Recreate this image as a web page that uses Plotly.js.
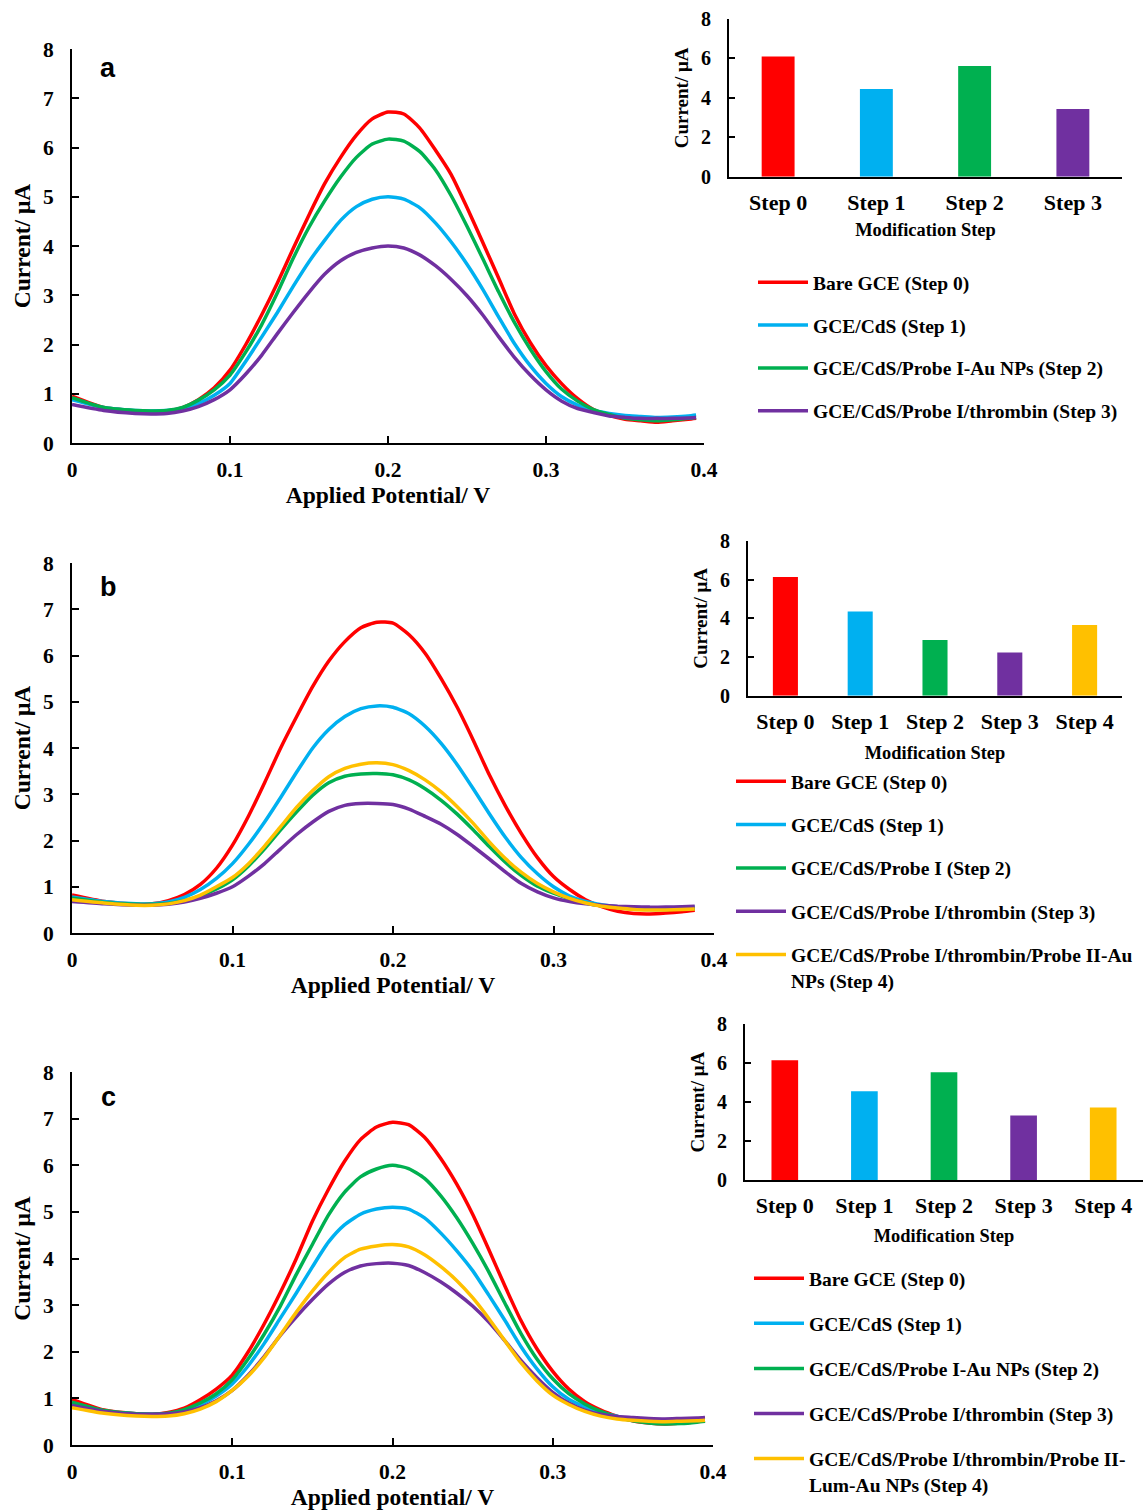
<!DOCTYPE html>
<html><head><meta charset="utf-8">
<script src="https://cdn.plot.ly/plotly-3.0.1.min.js"></script>
<style>html,body{margin:0;padding:0;background:#fff}</style>
</head><body>
<div id="chart" style="width:1143px;height:1512px"></div>
<script>
// ---------- DATA ----------
const potA = [0,0.02,0.04,0.05,0.06,0.07,0.08,0.09,0.10,0.11,0.12,0.13,0.14,0.15,0.16,0.17,0.18,0.19,0.20,0.21,0.22,0.23,0.24,0.25,0.26,0.27,0.28,0.29,0.30,0.31,0.32,0.33,0.34,0.35,0.36,0.37,0.38,0.39,0.395];
const redA    = [0.95,0.72,0.65,0.63,0.65,0.72,0.88,1.12,1.48,2.0,2.6,3.25,3.95,4.63,5.27,5.8,6.25,6.58,6.72,6.68,6.4,5.95,5.45,4.78,4.07,3.35,2.62,2.04,1.57,1.2,0.9,0.68,0.56,0.48,0.45,0.42,0.45,0.48,0.5];
const blueA   = [0.88,0.72,0.66,0.65,0.66,0.7,0.8,0.97,1.21,1.66,2.15,2.65,3.18,3.68,4.12,4.52,4.8,4.95,5.0,4.95,4.78,4.47,4.08,3.63,3.12,2.56,2.02,1.57,1.21,0.94,0.77,0.66,0.6,0.56,0.54,0.52,0.53,0.55,0.57];
const greenA  = [0.92,0.72,0.66,0.65,0.66,0.72,0.87,1.08,1.38,1.85,2.4,3.05,3.75,4.38,4.92,5.4,5.8,6.07,6.17,6.13,5.92,5.55,5.02,4.4,3.74,3.07,2.45,1.91,1.45,1.09,0.85,0.68,0.58,0.5,0.47,0.45,0.47,0.5,0.52];
const purpleA = [0.78,0.66,0.6,0.59,0.6,0.65,0.74,0.88,1.08,1.4,1.78,2.22,2.65,3.06,3.43,3.7,3.87,3.96,4.0,3.96,3.82,3.6,3.32,2.99,2.6,2.16,1.74,1.38,1.08,0.85,0.7,0.62,0.55,0.52,0.5,0.5,0.5,0.51,0.52];

const potB = [0,0.02,0.04,0.05,0.06,0.07,0.08,0.09,0.10,0.11,0.12,0.13,0.14,0.15,0.16,0.17,0.18,0.19,0.20,0.21,0.22,0.23,0.24,0.25,0.26,0.27,0.28,0.29,0.30,0.31,0.32,0.33,0.34,0.35,0.36,0.37,0.38,0.388];
const redB    = [0.82,0.68,0.62,0.63,0.7,0.83,1.05,1.4,1.9,2.53,3.25,4.0,4.68,5.33,5.88,6.3,6.6,6.72,6.7,6.45,6.05,5.5,4.88,4.17,3.42,2.75,2.15,1.63,1.22,0.94,0.72,0.57,0.47,0.42,0.41,0.43,0.46,0.49];
const blueB   = [0.78,0.68,0.63,0.63,0.67,0.77,0.94,1.18,1.5,1.92,2.4,2.93,3.48,4.0,4.4,4.68,4.85,4.91,4.88,4.74,4.47,4.1,3.64,3.12,2.58,2.07,1.63,1.28,1.0,0.8,0.68,0.61,0.57,0.55,0.54,0.54,0.55,0.56];
const greenB  = [0.75,0.66,0.62,0.62,0.64,0.7,0.8,0.95,1.15,1.45,1.82,2.23,2.62,2.98,3.25,3.39,3.44,3.45,3.42,3.31,3.12,2.87,2.57,2.23,1.87,1.53,1.24,1.01,0.86,0.74,0.65,0.59,0.55,0.52,0.51,0.51,0.52,0.53];
const purpleB = [0.68,0.63,0.6,0.6,0.62,0.67,0.75,0.86,1.0,1.23,1.5,1.82,2.13,2.4,2.63,2.76,2.8,2.8,2.78,2.68,2.52,2.35,2.13,1.87,1.6,1.32,1.07,0.89,0.76,0.68,0.63,0.6,0.58,0.57,0.56,0.56,0.57,0.58];
const yellowB = [0.72,0.65,0.6,0.6,0.63,0.7,0.82,1.0,1.2,1.5,1.88,2.3,2.72,3.08,3.38,3.56,3.65,3.68,3.64,3.51,3.31,3.05,2.73,2.37,1.97,1.61,1.31,1.07,0.89,0.75,0.65,0.58,0.54,0.51,0.5,0.5,0.51,0.52];

const potC = [0,0.02,0.04,0.05,0.06,0.07,0.08,0.09,0.10,0.11,0.12,0.13,0.14,0.15,0.16,0.17,0.18,0.19,0.20,0.21,0.22,0.23,0.24,0.25,0.26,0.27,0.28,0.29,0.30,0.31,0.32,0.33,0.34,0.35,0.36,0.37,0.38,0.39,0.395];
const redC    = [0.98,0.75,0.67,0.66,0.7,0.79,0.97,1.2,1.5,2.0,2.6,3.27,4.0,4.8,5.48,6.08,6.55,6.82,6.92,6.87,6.6,6.15,5.6,4.95,4.2,3.42,2.68,2.07,1.58,1.2,0.93,0.75,0.62,0.52,0.47,0.45,0.47,0.5,0.52];
const blueC   = [0.9,0.73,0.67,0.66,0.67,0.73,0.86,1.05,1.31,1.7,2.18,2.72,3.26,3.82,4.35,4.72,4.95,5.06,5.1,5.06,4.87,4.55,4.17,3.74,3.22,2.68,2.12,1.64,1.25,0.98,0.82,0.7,0.62,0.55,0.52,0.5,0.51,0.52,0.53];
const greenC  = [0.92,0.74,0.67,0.66,0.68,0.76,0.9,1.1,1.4,1.85,2.38,2.98,3.66,4.3,4.93,5.42,5.75,5.92,6.0,5.93,5.72,5.35,4.88,4.33,3.72,3.05,2.4,1.85,1.42,1.1,0.88,0.72,0.6,0.52,0.47,0.45,0.46,0.49,0.51];
const purpleC = [0.85,0.72,0.66,0.66,0.67,0.71,0.8,0.95,1.17,1.5,1.9,2.35,2.75,3.12,3.45,3.7,3.84,3.89,3.9,3.85,3.7,3.5,3.26,2.98,2.64,2.24,1.82,1.45,1.13,0.9,0.75,0.66,0.61,0.59,0.57,0.56,0.57,0.58,0.59];
const yellowC = [0.8,0.68,0.62,0.61,0.62,0.67,0.77,0.93,1.17,1.48,1.88,2.36,2.85,3.3,3.7,4.02,4.2,4.27,4.3,4.25,4.08,3.83,3.53,3.16,2.72,2.24,1.77,1.38,1.07,0.87,0.72,0.62,0.56,0.53,0.51,0.5,0.51,0.52,0.53];

const stepsA = ["Step 0","Step 1","Step 2","Step 3"];
const stepsBC = ["Step 0","Step 1","Step 2","Step 3","Step 4"];
const barA = [6.1, 4.45, 5.62, 3.43];
const barB = [6.14, 4.35, 2.88, 2.24, 3.66];
const barC = [6.15, 4.56, 5.53, 3.32, 3.72];

const namesA = ["Bare GCE (Step 0)","GCE/CdS (Step 1)","GCE/CdS/Probe I-Au NPs (Step 2)","GCE/CdS/Probe I/thrombin (Step 3)"];
const namesB = ["Bare GCE (Step 0)","GCE/CdS (Step 1)","GCE/CdS/Probe I (Step 2)","GCE/CdS/Probe I/thrombin (Step 3)","GCE/CdS/Probe I/thrombin/Probe II-Au<br>NPs (Step 4)"];
const namesC = ["Bare GCE (Step 0)","GCE/CdS (Step 1)","GCE/CdS/Probe I-Au NPs (Step 2)","GCE/CdS/Probe I/thrombin (Step 3)","GCE/CdS/Probe I/thrombin/Probe II-<br>Lum-Au NPs (Step 4)"];

// ---------- STYLE ----------
const COL = {red:"#FF0000", blue:"#00B0F0", green:"#00B050", purple:"#7030A0", yellow:"#FFC000"};
const SERIF = "Liberation Serif, Times New Roman, serif";
const W = 1143, H = 1512;
const px = v => v / W;
const py = v => 1 - v / H;

const traces = [];
function addLines(pot, series, names, colors, xa, ya, leg) {
  series.forEach((s, i) => {
    traces.push({
      type: "scatter", mode: "lines", x: pot, y: s, name: names[i],
      line: {color: colors[i], width: 3.5, shape: "spline", smoothing: 0.6},
      xaxis: xa, yaxis: ya, legend: leg, legendgroup: leg + "_" + i,
      hoverinfo: "skip"
    });
  });
}
addLines(potA, [redA, blueA, greenA, purpleA], namesA, [COL.red, COL.blue, COL.green, COL.purple], "x", "y", "legend");
addLines(potB, [redB, blueB, greenB, purpleB, yellowB], namesB, [COL.red, COL.blue, COL.green, COL.purple, COL.yellow], "x3", "y3", "legend2");
addLines(potC, [redC, blueC, greenC, purpleC, yellowC], namesC, [COL.red, COL.blue, COL.green, COL.purple, COL.yellow], "x5", "y5", "legend3");

function addBars(cats, vals, colors, xa, ya) {
  traces.push({type: "bar", x: cats, y: vals, marker: {color: colors, line: {width: 0}},
    width: 0.335, xaxis: xa, yaxis: ya, showlegend: false, hoverinfo: "skip"});
}
addBars(stepsA, barA, [COL.red, COL.blue, COL.green, COL.purple], "x2", "y2");
addBars(stepsBC, barB, [COL.red, COL.blue, COL.green, COL.purple, COL.yellow], "x4", "y4");
addBars(stepsBC, barC, [COL.red, COL.blue, COL.green, COL.purple, COL.yellow], "x6", "y6");

function mainX(x0, x1, anchor, title) {
  return {domain: [px(x0), px(x1)], anchor: anchor, range: [0, 0.4], tickvals: [0, 0.1, 0.2, 0.3, 0.4],
    showline: true, linecolor: "#000", linewidth: 2, ticks: "inside", ticklen: 7, tickwidth: 2, tickcolor: "#000",
    showgrid: false, zeroline: false, automargin: false, ticklabelstandoff: 6,
    tickfont: {family: SERIF, size: 21.5, weight: "bold", color: "#000"},
    title: {text: title, standoff: 0, font: {family: SERIF, size: 23.5, weight: "bold", color: "#000"}}};
}
function mainY(y0, y1, anchor) {
  return {domain: [py(y0), py(y1)], anchor: anchor, range: [0, 8], dtick: 1,
    showline: true, linecolor: "#000", linewidth: 2, ticks: "inside", ticklen: 7, tickwidth: 2, tickcolor: "#000",
    showgrid: false, zeroline: false, automargin: false, ticklabelstandoff: 12,
    tickfont: {family: SERIF, size: 21.5, weight: "bold", color: "#000"},
    title: {text: "Current/ μA", standoff: 6, font: {family: SERIF, size: 23.5, weight: "bold", color: "#000"}}};
}
function barX(x0, x1, anchor, tstand) {
  return {domain: [px(x0), px(x1)], anchor: anchor, type: "category",
    showline: true, linecolor: "#000", linewidth: 2, ticks: "", showgrid: false, zeroline: false,
    automargin: false, ticklabelstandoff: 5,
    tickfont: {family: SERIF, size: 22, weight: "bold", color: "#000"},
    title: {text: "Modification Step", standoff: tstand, font: {family: SERIF, size: 18.4, weight: "bold", color: "#000"}}};
}
function barY(y0, y1, anchor) {
  return {domain: [py(y0), py(y1)], anchor: anchor, range: [0, 8], dtick: 2,
    showline: true, linecolor: "#000", linewidth: 2, ticks: "inside", ticklen: 6, tickwidth: 2, tickcolor: "#000",
    showgrid: false, zeroline: false, automargin: false, ticklabelstandoff: 12,
    tickfont: {family: SERIF, size: 20, weight: "bold", color: "#000"},
    title: {text: "Current/ μA", standoff: 7, font: {family: SERIF, size: 19, weight: "bold", color: "#000"}}};
}
function legendAt(x, y, gap) {
  return {x: px(x), y: py(y), xanchor: "left", yanchor: "top", bgcolor: "rgba(0,0,0,0)",
    traceorder: "grouped", tracegroupgap: gap, itemwidth: 50, itemclick: false, valign: "top",
    font: {family: SERIF, size: 19.5, weight: "bold", color: "#000"}};
}

const labelFont = {family: "Liberation Sans, Arial, sans-serif", size: 27, weight: "bold", color: "#000"};
function panelLabel(t, x, y) {
  return {text: t, x: px(x), y: py(y), xref: "paper", yref: "paper", xanchor: "center", yanchor: "middle",
    showarrow: false, font: labelFont};
}
const layout = {
  width: W, height: H, margin: {l: 0, r: 0, t: 0, b: 0},
  paper_bgcolor: "#fff", plot_bgcolor: "rgba(0,0,0,0)", showlegend: true,
  xaxis: mainX(72, 704, "y", "Applied Potential/ V"), yaxis: mainY(443, 49, "x"),
  xaxis2: barX(729, 1122, "y2", 9), yaxis2: barY(176.7, 19, "x2"),
  xaxis3: mainX(72, 714, "y3", "Applied Potential/ V"), yaxis3: mainY(933, 563, "x3"),
  xaxis4: barX(748, 1122, "y4", 13), yaxis4: barY(695.7, 541, "x4"),
  xaxis5: mainX(72, 713, "y5", "Applied potential/ V"), yaxis5: mainY(1445, 1072, "x5"),
  xaxis6: barX(745, 1143, "y6", 12), yaxis6: barY(1180, 1024.3, "x6"),
  legend: legendAt(753, 263, 14.5), legend2: legendAt(731, 762, 15), legend3: legendAt(749, 1259, 16.75),
  annotations: [panelLabel("a", 108, 68), panelLabel("b", 108, 587), panelLabel("c", 108, 1097)]
};

Plotly.newPlot("chart", traces, layout, {staticPlot: true, displayModeBar: false});
</script>
</body></html>
